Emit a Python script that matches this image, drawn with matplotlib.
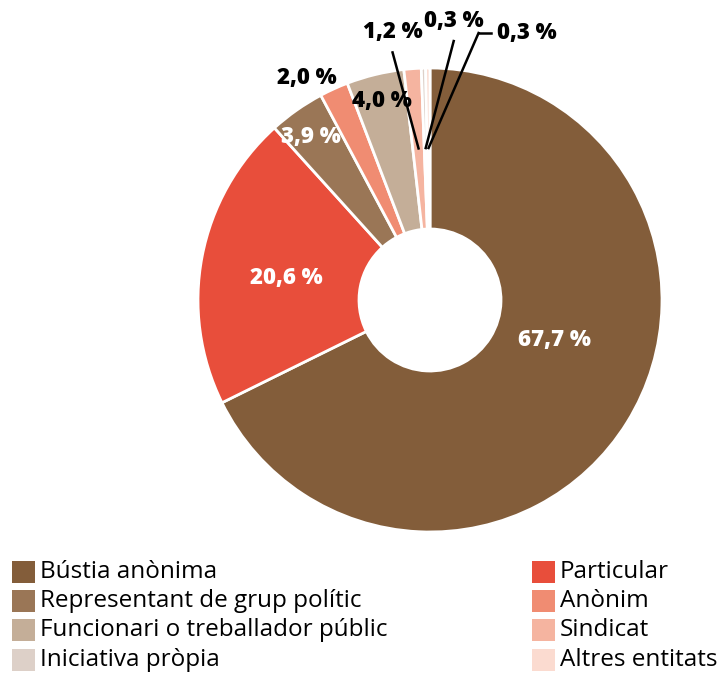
import matplotlib.pyplot as plt
import numpy as np
from matplotlib.patches import Rectangle

plt.rcParams['font.family'] = ['Open Sans', 'DejaVu Sans']

# data, in drawing order (clockwise from the top)
categories = ['Bústia anònima', 'Particular', 'Representant de grup polític',
              'Anònim', 'Funcionari o treballador públic', 'Sindicat',
              'Iniciativa pròpia', 'Altres entitats']
values = [67.7, 20.6, 3.9, 2.0, 4.0, 1.2, 0.3, 0.3]
labels = ['67,7 %', '20,6 %', '3,9 %', '2,0 %', '4,0 %', '1,2 %', '0,3 %', '0,3 %']
colors = ['#835d3a', '#e84e3b', '#9a7656', '#f08c72', '#c4ae98', '#f5b4a0',
          '#ddd0c8', '#fbdbd0']

# legend layout: left column then right column
legend_left = ['Bústia anònima', 'Representant de grup polític',
               'Funcionari o treballador públic', 'Iniciativa pròpia']
legend_right = ['Particular', 'Anònim', 'Sindicat', 'Altres entitats']

W, H = 723, 673
fig = plt.figure(figsize=(W / 100, H / 100), dpi=100)
ax = fig.add_axes([0, 0, 1, 1])

cx, cy, R = 430, H - 300, 232
hole = 71
wedges, _ = ax.pie(values, colors=colors, startangle=90, counterclock=False,
                   center=(cx, cy), radius=R, frame=True,
                   wedgeprops=dict(width=R - hole, edgecolor='white', linewidth=2))
ax.set_xlim(0, W)
ax.set_ylim(0, H)
ax.set_aspect('equal')
ax.axis('off')

def mid_angle(w, shift=0):
    return np.deg2rad((w.theta1 + w.theta2) / 2 + shift)

lab_fs = 16
# labels on/near the ring: index -> (radius, angle shift, colour)
placed = {0: (131, 14, 'white'), 1: (145, 2, 'white'), 2: (202, 1, 'white'),
          3: (254, 4.5, 'black'), 4: (205, 0, 'black')}
for i, (r, sh, col) in placed.items():
    a = mid_angle(wedges[i], sh)
    ax.text(cx + r * np.cos(a), cy + r * np.sin(a), labels[i], color=col,
            fontsize=lab_fs, fontweight='heavy', ha='center', va='center')

# small slices with leader lines
r_in = 152
lead = [(5, (-26, 96), 'center', 20), (6, (28, 107), 'center', 20), (7, (50, 115), 'left', 0)]
for i, (dx, dy), ha, gap in lead:
    a = mid_angle(wedges[i])
    x0, y0 = cx + r_in * np.cos(a), cy + r_in * np.sin(a)
    x1, y1 = x0 + dx, y0 + dy
    ax.plot([x0, x1], [y0, y1], color='black', lw=1.8)
    if ha == 'left':
        ax.plot([x1, x1 + 12], [y1, y1], color='black', lw=1.8)
        ax.text(x1 + 18, y1, labels[i], fontsize=lab_fs, fontweight='heavy',
                ha='left', va='center')
    else:
        ax.text(x1, y1 + gap, labels[i], fontsize=lab_fs, fontweight='heavy',
                ha='center', va='center')

# legend
row_y = [H - 572, H - 601, H - 630, H - 660]
for col_x, names in [(12, legend_left), (532, legend_right)]:
    for y, name in zip(row_y, names):
        c = colors[categories.index(name)]
        ax.add_patch(Rectangle((col_x, y - 11), 23, 22, color=c, lw=0))
        ax.text(col_x + 28, y, name, fontsize=17.5, ha='left', va='center')

fig.savefig('out.png', dpi=100)
